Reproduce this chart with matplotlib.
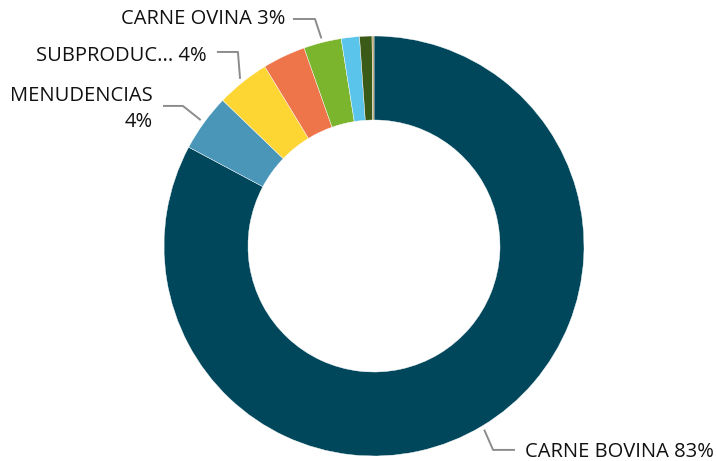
import numpy as np
import matplotlib.pyplot as plt

plt.rcParams['font.family'] = ['Open Sans', 'DejaVu Sans']

categories = ['CARNE BOVINA', 'MENUDENCIAS', 'SUBPRODUCTOS', 'OTROS A', 'CARNE OVINA',
              'OTROS B', 'OTROS C', 'OTROS D']
values = [82.8, 4.4, 4.1, 3.3, 2.9, 1.4, 0.95, 0.15]
colors = ['#00475c', '#4a96b9', '#fdd633', '#ee744a', '#7ab52d', '#5bc4ea', '#3a5a17', '#b0a060']
shown = ['CARNE BOVINA 83%', 'MENUDENCIAS\n4%', 'SUBPRODUC... 4%', None, 'CARNE OVINA 3%',
         None, None, None]

W, H = 716, 461
fig = plt.figure(figsize=(W / 100, H / 100), dpi=100)
cx, cy, r = 374, 246, 210
ax = fig.add_axes([(cx - r) / W, (H - cy - r) / H, 2 * r / W, 2 * r / H])

wedges, _ = ax.pie(values, colors=colors, startangle=90, counterclock=False, radius=1,
                   wedgeprops=dict(width=0.4, edgecolor='white', linewidth=0.3))
ax.set_xlim(-1, 1)
ax.set_ylim(-1, 1)
ax.set_aspect('equal')
ax.axis('off')

# leader line elbows / ends and text anchor (data units), per labelled wedge
layout = {
    0: ((0.567, -0.971), (0.671, -0.971), (0.719, -0.981), 'left'),
    1: ((-0.910, 0.667), (-1.005, 0.667), (-1.052, 0.652), 'right'),
    2: ((-0.648, 0.924), (-0.748, 0.924), (-0.795, 0.905), 'right'),
    4: ((-0.281, 1.081), (-0.386, 1.081), (-0.424, 1.079), 'right'),
}

for i, (elbow, end, txt, ha) in layout.items():
    w = wedges[i]
    mid = np.deg2rad((w.theta1 + w.theta2) / 2)
    sx, sy = 1.02 * np.cos(mid), 1.02 * np.sin(mid)
    ax.plot([sx, elbow[0], end[0]], [sy, elbow[1], end[1]], color='#8c8c8c', lw=1.4,
            clip_on=False, solid_capstyle='butt')
    ax.text(txt[0], txt[1], shown[i], ha=ha, va='center', fontsize=14.5, color='#111111',
            multialignment='right', linespacing=1.45)

fig.savefig('out.png', dpi=100)
